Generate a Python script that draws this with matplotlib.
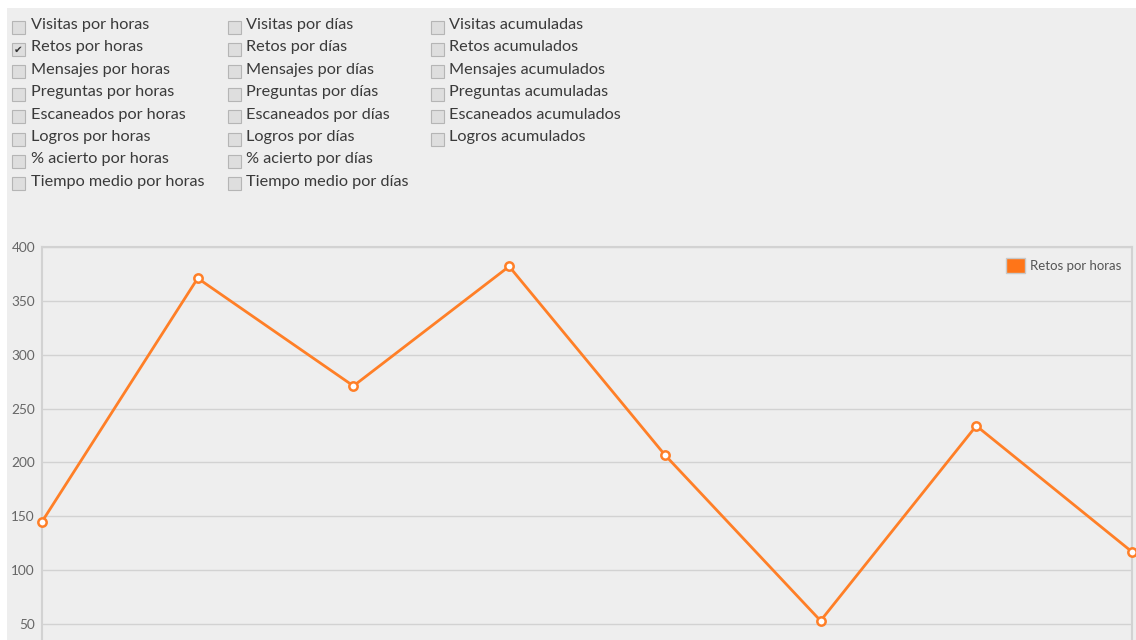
import matplotlib.pyplot as plt
from matplotlib.patches import Rectangle, Patch

plt.rcParams['font.family'] = ['Lato', 'DejaVu Sans']

# Checkbox labels (three columns)
col_horas = ["Visitas por horas", "Retos por horas", "Mensajes por horas",
             "Preguntas por horas", "Escaneados por horas", "Logros por horas",
             "% acierto por horas", "Tiempo medio por horas"]
col_dias = ["Visitas por días", "Retos por días", "Mensajes por días",
            "Preguntas por días", "Escaneados por días", "Logros por días",
            "% acierto por días", "Tiempo medio por días"]
col_acum = ["Visitas acumuladas", "Retos acumulados", "Mensajes acumulados",
            "Preguntas acumuladas", "Escaneados acumulados", "Logros acumulados"]
checked = "Retos por horas"

# Series data
series_name = "Retos por horas"
points = [0, 1, 2, 3, 4, 5, 6, 7]
retos = [145, 371, 271, 382, 207, 53, 234, 117]
y_ticks = [50, 100, 150, 200, 250, 300, 350, 400]

W, H = 1136, 640
fig = plt.figure(figsize=(W / 100, H / 100), dpi=100)
fig.patch.set_facecolor("#eeeeee")

def px(x, y):
    return x / W, 1 - y / H

# white strip at top and left of the page
fig.patches.append(Rectangle((0, 1 - 8 / H), 1, 8 / H, transform=fig.transFigure,
                             facecolor="white", edgecolor="none"))
fig.patches.append(Rectangle((0, 0), 7 / W, 1, transform=fig.transFigure,
                             facecolor="white", edgecolor="none"))

# checkbox columns
columns = [(12, 31, col_horas), (228, 246, col_dias), (431, 449, col_acum)]
for box_x, text_x, labels in columns:
    for i, lab in enumerate(labels):
        yc = 23.5 + i * 22.4
        bx, by = px(box_x, yc + 10)
        fig.patches.append(Rectangle((bx, by), 13 / W, 13 / H, transform=fig.transFigure,
                                     facecolor="#dedede", edgecolor="#b5b5b5", lw=0.8))
        if lab == checked:
            cx, cy = px(box_x + 6.5, yc + 3.5)
            fig.text(cx, cy, "✔", ha="center", va="center", fontsize=7.5,
                     color="#333333", family=["DejaVu Sans"])
        tx, ty = px(text_x, yc + 1.5)
        fig.text(tx, ty, lab, ha="left", va="center", fontsize=11.7, color="#3a3a3a")

# chart area: y=400 at 247px, y=50 at 624px
top_px, left_px, right_px = 247, 42, 1132
unit = (624 - 247) / 350.0
bottom_px = 624 + 50 * unit
ax = fig.add_axes([left_px / W, 1 - bottom_px / H, (right_px - left_px) / W,
                   (bottom_px - top_px) / H])
ax.set_facecolor("#eeeeee")
ax.set_xlim(0, 7)
ax.set_ylim(0, 400)
ax.set_yticks(y_ticks)
ax.set_xticks([])
ax.grid(axis="y", color="#d2d2d2", lw=1)
ax.set_axisbelow(True)
for s in ["left", "top", "right"]:
    ax.spines[s].set_color("#d2d2d2")
    ax.spines[s].set_linewidth(1.5)
ax.spines["bottom"].set_visible(False)
ax.tick_params(axis="y", length=0, pad=5, labelsize=9.8, labelcolor="#666666")

ax.plot(points, retos, color="#ff7f27", lw=2, marker="o", markersize=6,
        markerfacecolor="white", markeredgecolor="#ff7f27", markeredgewidth=1.8,
        clip_on=False, zorder=3)

handle = Patch(facecolor="#ff7518", edgecolor="#c8c8c8", linewidth=1)
ax.legend([handle], [series_name], loc="upper right", frameon=False,
          fontsize=9.5, labelcolor="#555555", handlelength=1.45, handleheight=1.45,
          handletextpad=0.35, borderaxespad=0.4)

fig.savefig("out.png", dpi=100)
